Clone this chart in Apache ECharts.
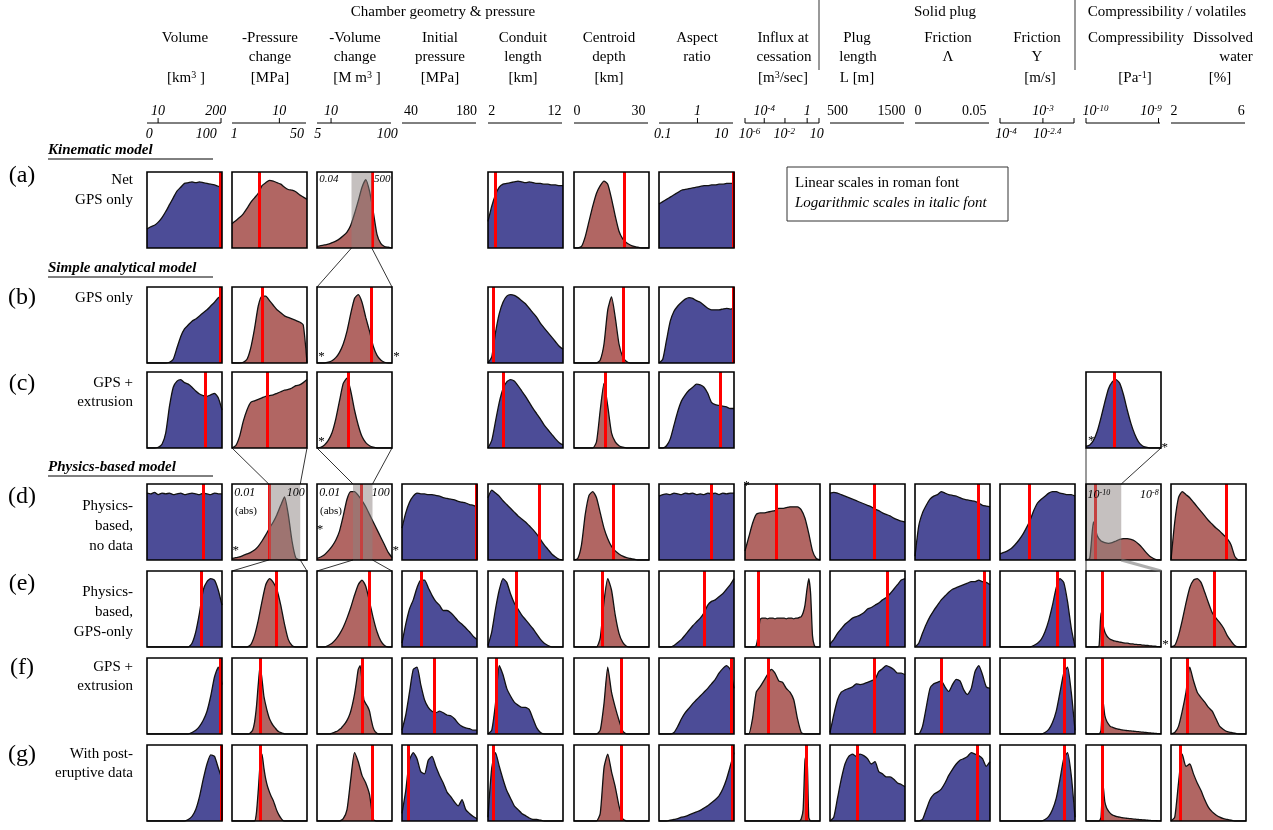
<!DOCTYPE html>
<html><head><meta charset="utf-8">
<script src="https://cdn.jsdelivr.net/npm/echarts@6/dist/echarts.min.js"></script>
<style>html,body{margin:0;padding:0;background:#fff}#c{width:1273px;height:830px}</style>
</head><body><div id="c"></div>
<script>
// ---------- DATA (relative histogram heights, sampled evenly across each parameter range) ----------
const histA = [
  [0.25,0.28,0.30,0.34,0.40,0.48,0.57,0.66,0.75,0.80,0.85,0.86,0.87,0.86,0.87,0.86,0.85,0.84,0.83,0.81,0.80],
  [0.32,0.36,0.40,0.45,0.52,0.60,0.66,0.72,0.82,0.86,0.89,0.88,0.86,0.84,0.80,0.77,0.76,0.74,0.70,0.67,0.64],
  [0.02,0.03,0.04,0.05,0.07,0.09,0.12,0.16,0.21,0.30,0.45,0.62,0.80,0.90,0.75,0.48,0.18,0.06,0.02,0.01,0],
  null,
  [0.35,0.55,0.70,0.80,0.84,0.85,0.86,0.87,0.88,0.87,0.86,0.87,0.86,0.85,0.85,0.84,0.84,0.83,0.83,0.82,0.82],
  [0,0,0.02,0.15,0.35,0.55,0.72,0.82,0.88,0.84,0.65,0.42,0.22,0.12,0.07,0.04,0.02,0.01,0,0,0],
  [0.58,0.61,0.64,0.67,0.70,0.73,0.76,0.77,0.78,0.79,0.80,0.81,0.82,0.82,0.83,0.83,0.84,0.84,0.85,0.85,0.85]
];
const histB = [
  [0,0,0,0,0,0,0.01,0.05,0.2,0.35,0.45,0.5,0.55,0.58,0.62,0.66,0.7,0.75,0.8,0.86,0.88],
  [0,0,0,0.01,0.05,0.2,0.45,0.75,0.88,0.88,0.82,0.76,0.70,0.66,0.62,0.60,0.58,0.56,0.54,0.5,0],
  [0,0,0,0.01,0.03,0.07,0.14,0.25,0.42,0.65,0.85,0.9,0.8,0.6,0.42,0.22,0.1,0.04,0.01,0,0],
  null,
  [0,0.08,0.4,0.65,0.8,0.88,0.9,0.89,0.86,0.82,0.78,0.72,0.66,0.6,0.52,0.46,0.4,0.34,0.28,0.22,0.18],
  [0,0,0,0,0,0,0,0.04,0.25,0.7,0.87,0.6,0.25,0.08,0.02,0,0,0,0,0,0],
  [0,0.05,0.3,0.55,0.68,0.75,0.8,0.84,0.86,0.85,0.82,0.8,0.76,0.72,0.7,0.7,0.7,0.71,0.72,0.71,0.72]
];
const histC = [
  [0,0,0,0.01,0.05,0.2,0.55,0.8,0.88,0.9,0.86,0.84,0.8,0.75,0.71,0.69,0.68,0.7,0.72,0.66,0.5],
  [0,0.03,0.15,0.35,0.5,0.6,0.62,0.64,0.66,0.68,0.69,0.7,0.72,0.74,0.76,0.77,0.79,0.82,0.83,0.86,0.9],
  [0,0.01,0.04,0.1,0.2,0.38,0.62,0.85,0.92,0.75,0.5,0.3,0.15,0.07,0.03,0.01,0,0,0,0,0],
  null,
  [0,0.1,0.35,0.6,0.78,0.87,0.9,0.88,0.82,0.75,0.68,0.6,0.52,0.45,0.38,0.3,0.24,0.18,0.12,0.07,0.04],
  [0,0,0,0,0,0,0.08,0.5,0.85,0.55,0.2,0.08,0.03,0.01,0,0,0,0,0,0,0],
  [0,0,0.03,0.12,0.3,0.48,0.62,0.7,0.76,0.8,0.84,0.83,0.8,0.72,0.6,0.57,0.56,0.55,0.54,0.52,0.52],
  null, null, null, null,
  [0.02,0.04,0.1,0.22,0.4,0.6,0.78,0.87,0.9,0.85,0.7,0.5,0.32,0.18,0.08,0.03,0.01,0,0,0,0]
];
const histD = [
  [0.88,0.87,0.89,0.86,0.88,0.87,0.88,0.86,0.87,0.88,0.86,0.87,0.88,0.87,0.86,0.88,0.87,0.86,0.88,0.87,0.87],
  [0.02,0.03,0.04,0.06,0.08,0.1,0.13,0.18,0.25,0.33,0.42,0.5,0.6,0.72,0.83,0.6,0.25,0.03,0,0,0],
  [0.02,0.04,0.07,0.12,0.18,0.26,0.38,0.58,0.8,0.9,0.9,0.85,0.78,0.7,0.6,0.5,0.4,0.3,0.2,0.1,0.03],
  [0.42,0.62,0.76,0.84,0.88,0.87,0.87,0.86,0.86,0.85,0.84,0.82,0.81,0.8,0.79,0.77,0.76,0.75,0.73,0.72,0.7],
  [0.82,0.92,0.88,0.84,0.78,0.73,0.68,0.63,0.58,0.54,0.5,0.45,0.4,0.34,0.27,0.2,0.14,0.08,0.04,0.01,0],
  [0,0.02,0.2,0.6,0.85,0.9,0.82,0.62,0.42,0.28,0.18,0.12,0.08,0.05,0.03,0.02,0.01,0,0,0,0],
  [0.84,0.86,0.87,0.86,0.88,0.87,0.86,0.88,0.87,0.88,0.86,0.87,0.86,0.88,0.87,0.88,0.86,0.88,0.87,0.88,0.88],
  [0.12,0.3,0.48,0.6,0.62,0.62,0.63,0.64,0.65,0.68,0.68,0.69,0.7,0.7,0.7,0.66,0.55,0.35,0.12,0.02,0],
  [0.88,0.89,0.88,0.86,0.84,0.82,0.8,0.78,0.76,0.74,0.72,0.7,0.67,0.65,0.62,0.6,0.58,0.55,0.53,0.51,0.5],
  [0.05,0.45,0.62,0.72,0.8,0.84,0.86,0.9,0.88,0.86,0.85,0.84,0.82,0.8,0.79,0.78,0.77,0.75,0.72,0.71,0.7],
  [0.08,0.1,0.12,0.15,0.2,0.26,0.33,0.42,0.52,0.65,0.75,0.8,0.84,0.88,0.9,0.9,0.88,0.87,0.86,0.86,0.84],
  [0,0.02,0.5,0.32,0.25,0.23,0.22,0.23,0.25,0.27,0.28,0.28,0.27,0.25,0.21,0.16,0.1,0.05,0.02,0,0],
  [0,0.5,0.82,0.9,0.86,0.82,0.76,0.7,0.64,0.58,0.52,0.47,0.42,0.38,0.33,0.28,0.2,0.05,0,0,0]
];
const histE = [
  [0,0,0,0,0,0,0,0,0,0,0,0,0.05,0.2,0.45,0.75,0.86,0.9,0.88,0.75,0.55],
  [0,0,0,0,0,0.03,0.15,0.35,0.6,0.82,0.9,0.85,0.75,0.55,0.3,0.1,0.02,0,0,0,0],
  [0,0,0,0.02,0.05,0.1,0.17,0.26,0.38,0.52,0.68,0.82,0.88,0.8,0.6,0.38,0.2,0.08,0.02,0,0],
  [0.05,0.3,0.5,0.62,0.78,0.88,0.88,0.78,0.68,0.6,0.55,0.48,0.48,0.45,0.4,0.34,0.3,0.25,0.2,0.14,0.1],
  [0.02,0.2,0.5,0.75,0.9,0.85,0.7,0.58,0.5,0.42,0.36,0.3,0.24,0.17,0.1,0.05,0.02,0,0,0,0],
  [0,0,0,0,0,0,0,0.12,0.6,0.9,0.75,0.42,0.18,0.06,0.01,0,0,0,0,0,0],
  [0,0,0,0,0.02,0.06,0.1,0.16,0.22,0.28,0.33,0.38,0.45,0.55,0.6,0.62,0.66,0.7,0.76,0.82,0.9],
  [0,0,0,0,0,0,0.02,0.15,0.36,0.38,0.38,0.38,0.37,0.38,0.38,0.38,0.37,0.38,0.38,0.38,0.38,0.38,0.37,0.38,0.38,0.38,0.37,0.38,0.38,0.39,0.4,0.45,0.55,0.75,0.9,0.7,0.15,0.02,0,0,0],
  [0.04,0.1,0.18,0.24,0.3,0.34,0.38,0.4,0.42,0.45,0.5,0.52,0.55,0.58,0.62,0.65,0.7,0.76,0.82,0.88,0.9],
  [0,0.05,0.18,0.3,0.4,0.48,0.55,0.62,0.67,0.72,0.76,0.78,0.8,0.82,0.84,0.86,0.86,0.88,0.86,0.85,0.82],
  [0,0,0,0,0,0,0,0,0,0.02,0.05,0.1,0.2,0.35,0.55,0.78,0.9,0.85,0.6,0.25,0],
  [0,0,0,0,0,0,0,0.02,0.45,0.3,0.2,0.15,0.12,0.1,0.09,0.08,0.075,0.07,0.065,0.06,0.055,0.05,0.05,0.045,0.04,0.04,0.035,0.035,0.03,0.03,0.025,0.025,0.02,0.02,0.015,0.015,0.01,0.01,0.005,0.005,0],
  [0,0.02,0.15,0.35,0.58,0.78,0.88,0.9,0.85,0.72,0.58,0.45,0.38,0.32,0.25,0.15,0.08,0.02,0,0,0]
];
const histF = [
  [0,0,0,0,0,0,0,0,0,0,0,0,0.02,0.05,0.1,0.18,0.3,0.5,0.75,0.88,0.65],
  [0,0,0,0,0,0,0,0,0,0,0.02,0.05,0.15,0.35,0.65,0.9,0.72,0.5,0.38,0.28,0.2,0.15,0.11,0.08,0.05,0.03,0.02,0.01,0,0,0,0,0,0,0,0,0,0,0,0,0],
  [0,0,0,0,0,0,0,0,0.01,0.02,0.03,0.04,0.06,0.08,0.11,0.14,0.18,0.23,0.3,0.4,0.52,0.68,0.85,0.9,0.7,0.45,0.4,0.36,0.3,0.18,0.08,0.03,0.01,0,0,0,0,0,0,0,0],
  [0.05,0.25,0.55,0.85,0.88,0.65,0.45,0.35,0.3,0.28,0.3,0.28,0.25,0.24,0.2,0.14,0.1,0.08,0.07,0.05,0.05],
  [0,0.05,0.4,0.9,0.78,0.6,0.5,0.42,0.38,0.35,0.35,0.32,0.2,0.08,0.02,0,0,0,0,0,0],
  [0,0,0,0,0,0,0,0.05,0.4,0.88,0.55,0.35,0.18,0.04,0,0,0,0,0,0,0],
  [0,0,0,0,0.02,0.1,0.2,0.28,0.34,0.4,0.45,0.5,0.55,0.6,0.66,0.72,0.8,0.86,0.9,0.85,0.6],
  [0,0,0.2,0.55,0.62,0.7,0.78,0.85,0.8,0.7,0.68,0.6,0.55,0.45,0.2,0.02,0,0,0,0,0],
  [0.02,0.25,0.45,0.55,0.58,0.6,0.62,0.66,0.65,0.66,0.68,0.7,0.72,0.82,0.86,0.9,0.88,0.85,0.8,0.8,0.78],
  [0,0,0.1,0.35,0.6,0.66,0.68,0.7,0.62,0.56,0.65,0.72,0.7,0.58,0.52,0.6,0.82,0.9,0.78,0.62,0.6],
  [0,0,0,0,0,0,0,0,0,0,0,0,0.02,0.06,0.15,0.3,0.55,0.8,0.88,0.55,0.05],
  [0,0,0,0,0,0,0,0,0.05,0.45,0.25,0.17,0.13,0.1,0.09,0.08,0.07,0.065,0.06,0.055,0.05,0.047,0.045,0.042,0.04,0.037,0.035,0.032,0.03,0.027,0.025,0.022,0.02,0.017,0.015,0.012,0.01,0.008,0.006,0.004,0.002],
  [0,0.02,0.1,0.3,0.55,0.88,0.7,0.55,0.48,0.42,0.35,0.3,0.2,0.1,0.06,0.03,0.02,0.01,0,0,0]
];
const histG = [
  [0,0,0,0,0,0,0,0,0,0,0,0.02,0.06,0.15,0.32,0.55,0.75,0.87,0.85,0.7,0.55],
  [0,0,0,0,0,0,0,0,0,0,0,0,0,0.1,0.4,0.75,0.88,0.7,0.55,0.45,0.38,0.32,0.27,0.2,0.13,0.08,0.04,0.01,0,0,0,0,0,0,0,0,0,0,0,0,0],
  [0,0,0,0,0,0,0,0.03,0.15,0.55,0.9,0.78,0.6,0.5,0.35,0.02,0,0,0,0,0],
  [0.1,0.4,0.8,0.9,0.82,0.65,0.62,0.8,0.85,0.72,0.6,0.5,0.38,0.32,0.25,0.2,0.28,0.15,0.1,0.06,0.03],
  [0.05,0.7,0.9,0.72,0.55,0.4,0.3,0.2,0.15,0.1,0.07,0.04,0.02,0.02,0.01,0,0,0,0,0,0],
  [0,0,0,0,0,0,0,0.1,0.7,0.88,0.65,0.45,0.2,0.03,0,0,0,0,0,0,0],
  [0,0,0,0.01,0.02,0.03,0.05,0.06,0.08,0.1,0.12,0.14,0.17,0.2,0.24,0.28,0.33,0.42,0.55,0.72,0.9],
  [0,0,0,0,0,0,0,0,0,0,0,0,0,0,0,0,0,0,0,0,0,0,0,0,0,0,0,0,0,0,0.03,0.15,0.8,0.9,0.05,0,0,0,0,0,0],
  [0,0.05,0.3,0.55,0.75,0.85,0.88,0.85,0.88,0.86,0.82,0.75,0.78,0.65,0.62,0.58,0.58,0.55,0.5,0.48,0.45],
  [0,0,0.02,0.15,0.28,0.35,0.38,0.42,0.5,0.6,0.68,0.75,0.8,0.82,0.85,0.9,0.88,0.86,0.82,0.72,0.78],
  [0,0,0,0,0,0,0,0,0,0,0,0,0.02,0.06,0.15,0.3,0.55,0.82,0.9,0.6,0.05],
  [0,0,0,0,0,0,0,0,0.05,0.5,0.26,0.17,0.13,0.1,0.08,0.07,0.06,0.055,0.05,0.045,0.04,0.037,0.035,0.032,0.03,0.027,0.025,0.022,0.02,0.018,0.016,0.014,0.012,0.01,0.008,0.006,0.005,0.004,0.003,0.002,0],
  [0,0.05,0.5,0.88,0.72,0.75,0.62,0.5,0.4,0.28,0.18,0.12,0.08,0.05,0.03,0.02,0.01,0,0,0,0]
];
// true values (red lines), as fraction of each parameter range
const redA = [0.97,0.36,0.73,null,0.1,0.67,0.99];
const redB = [0.97,0.4,0.72,null,0.07,0.65,0.99];
const redC = [0.77,0.47,0.42,null,0.2,0.42,0.82,null,null,null,null,0.37];
const redD = [0.75,0.49,0.59,0.99,0.68,0.52,0.7,0.41,0.59,0.84,0.39,0.12,0.74];
const redE = [0.72,0.59,0.7,0.25,0.38,0.37,0.6,0.18,0.76,0.92,0.76,0.21,0.58];
const redF = [0.98,0.38,0.6,0.43,0.11,0.63,0.96,0.31,0.59,0.35,0.86,0.22,0.22];
const redG = [0.99,0.38,0.73,0.08,0.07,0.63,0.98,0.82,0.36,0.83,0.86,0.22,0.12];
// B = blue (linear-ish parameters), R = brown
const kindA = 'BRR-BRB------', kindB = 'BRR-BRB------', kindC = 'BRR-BRB----B-';
const kindD = 'BRRBBRBRBBBRR', kindE = kindD, kindF = kindD, kindG = kindD;

const groupTitles = ['Chamber geometry & pressure','Solid plug','Compressibility / volatiles'];
const colTitle1 = ['Volume','-Pressure','-Volume','Initial','Conduit','Centroid','Aspect','Influx at','Plug','Friction','Friction','Compressibility','Dissolved'];
const colTitle2 = ['','change','change','pressure','length','depth','ratio','cessation','length','\u039B','Y','','water'];
const colUnits = ['[km^{3} ]','[MPa]','[M m^{3} ]','[MPa]','[km]','[km]','','[m^{3}/sec]','L [m]','','[m/s]','[Pa^{-1}]','[%]'];
const scaleTopLabels = [['10','200'],['10'],['10'],['40','180'],['2','12'],['0','30'],['1'],['10^{-4}','1'],['500','1500'],['0','0.05'],['10^{-3}'],['10^{-10}','10^{-9}'],['2','6']];
const scaleBotLabels = [['0','100'],['1','50'],['5','100'],[],[],[],['0.1','10'],['10^{-6}','10^{-2}','10'],[],[],['10^{-4}','10^{-2.4}'],[],[]];
const scaleIsLog = [1,1,1,0,0,0,1,1,0,0,1,1,0];
const rowLetters = ['(a)','(b)','(c)','(d)','(e)','(f)','(g)'];
const rowNames = [['Net','GPS only'],['GPS only'],['GPS +','extrusion'],['Physics-','based,','no data'],['Physics-','based,','GPS-only'],['GPS +','extrusion'],['With post-','eruptive data']];
const sectionTitles = ['Kinematic model','Simple analytical model','Physics-based model'];
const legendLines = ['Linear scales in roman font','Logarithmic scales in italic font'];

// ---------- LAYOUT / STYLE ----------
const FONT = '"Liberation Serif","Times New Roman",serif';
const BLUE = '#4c4c97', BROWN = '#b16663';
const COLX = [147,232,317,402,488,574,659,745,830,915,1000,1086,1171];
const ROWY = [172,287,372,484,571,658,745];
const BW = 75, BH = 76;
const ROWS_DATA = [histA,histB,histC,histD,histE,histF,histG];
const REDS = [redA,redB,redC,redD,redE,redF,redG];
const KINDS = [kindA,kindB,kindC,kindD,kindE,kindF,kindG];
const BANDS = [[0,2,0.46,0.73],[3,1,0.49,0.91],[3,2,0.48,0.74],[3,11,0,0.47]];

function rt(str,size,st,wt){
  const re=/\^\{([^}]*)\}/g; let out='',last=0,m;
  while((m=re.exec(str))){ if(m.index>last) out+='{n|'+str.slice(last,m.index)+'}'; out+='{s|'+m[1]+'}'; last=re.lastIndex; }
  if(last<str.length) out+='{n|'+str.slice(last)+'}';
  return {text:out, rich:{
    n:{fontSize:size,fontFamily:FONT,fontStyle:st,fontWeight:wt,fill:'#000'},
    s:{fontSize:Math.round(size*0.66),fontFamily:FONT,fontStyle:st,fontWeight:wt,fill:'#000',verticalAlign:'top'}
  }};
}
function txt(x,y,str,o){
  o=o||{}; const size=o.size||15, st=o.italic?'italic':'normal', wt=o.bold?'bold':'normal', al=o.align||'center';
  const r=rt(str,size,st,wt);
  return {type:'text',x:x,y:y,z:100,silent:true,style:{text:r.text,rich:r.rich,font:st+' '+wt+' '+size+'px '+FONT,fill:'#000',
    align:al,textAlign:al,verticalAlign:'middle',textVerticalAlign:'middle'}};
}
function ln(x1,y1,x2,y2,o){
  o=o||{};
  return {type:'line',z:o.z||100,silent:true,shape:{x1:x1,y1:y1,x2:x2,y2:y2},style:{stroke:o.color||'#000',lineWidth:o.w||1}};
}

const chart = echarts.init(document.getElementById('c'),null,{renderer:'canvas'});
const grids=[],xAxes=[],yAxes=[],series=[]; const gIdx=ROWS_DATA.map(()=>[]);
ROWS_DATA.forEach((row,r)=>{
  row.forEach((h,c)=>{
    if(!h) return;
    const gi=grids.length; gIdx[r][c]=gi;
    grids.push({left:COLX[c],top:ROWY[r],width:BW,height:BH,show:true,backgroundColor:'transparent',borderColor:'#000',borderWidth:1.6,z:10});
    xAxes.push({gridIndex:gi,type:'value',min:0,max:1,show:false});
    yAxes.push({gridIndex:gi,type:'value',min:0,max:1,show:false});
    const red=REDS[r][c];
    const s={type:'line',xAxisIndex:gi,yAxisIndex:gi,data:h.map((v,i)=>[i/(h.length-1),v]),symbol:'none',smooth:0.2,
      lineStyle:{color:'#111',width:1.3},areaStyle:{color:KINDS[r][c]==='B'?BLUE:BROWN,opacity:1},silent:true,z:2,animation:false};
    if(red!=null) s.markLine={silent:true,symbol:['none','none'],label:{show:false},lineStyle:{color:'#ff0000',width:3,type:'solid'},data:[{xAxis:red}],z:6,animation:false};
    series.push(s);
  });
});
BANDS.forEach(([r,c,a,b])=>{
  const gi=gIdx[r][c];
  series.push({type:'line',xAxisIndex:gi,yAxisIndex:gi,data:[],z:7,silent:true,animation:false,
    markArea:{silent:true,z:7,itemStyle:{color:'rgba(140,130,128,0.5)'},data:[[{xAxis:a},{xAxis:b}]]}});
});

const G=[];
// header
[443,945,1167].forEach((x,i)=>G.push(txt(x,12,groupTitles[i])));
G.push(ln(819,0,819,70,{color:'#999',w:2}), ln(1075,0,1075,70,{color:'#999',w:2}));
const T1X=[185,270,355,440,523,609,697,783,857,948,1037,1136,1223];
const T2X=[185,270,355,440,523,609,697,784,858,948,1037,1136,1236];
const UX=[186,270,357,440,523,609,697,783,857,948,1040,1135,1220];
colTitle1.forEach((t,i)=>{
  G.push(txt(T1X[i],38,t));
  if(colTitle2[i]) G.push(txt(T2X[i],57,colTitle2[i]));
  if(colUnits[i]) G.push(txt(UX[i],78,colUnits[i]));
});
const topPos=[[0.15,0.93],[0.64],[0.19],[0.12,0.87],[0.05,0.9],[0.04,0.87],[0.52],[0.26,0.84],[0.1,0.83],[0.04,0.8],[0.58],[0.13,0.88],[0.04,0.95]];
const botPos=[[0.03,0.8],[0.03,0.88],[0.01,0.95],[],[],[],[0.05,0.84],[0.06,0.53,0.97],[],[],[0.08,0.64],[],[]];
const ticks=[[0.15,1],[0.64],[0.19],[],[],[],[0.52],[0,0.26,0.54,0.84,1],[],[],[0,0.58,1],[0,0.98],[]];
COLX.forEach((x0,c)=>{
  const w=BW-1, it=!!scaleIsLog[c];
  G.push(ln(x0,123,x0+w,123));
  ticks[c].forEach(f=>G.push(ln(x0+f*w,118,x0+f*w,123)));
  scaleTopLabels[c].forEach((t,k)=>G.push(txt(x0+topPos[c][k]*w,111,t,{italic:it,size:14})));
  scaleBotLabels[c].forEach((t,k)=>G.push(txt(x0+botPos[c][k]*w,134,t,{italic:it,size:14})));
});
// section titles
[[150,159],[268,277],[467,476]].forEach(([y,u],i)=>{
  G.push(txt(48,y,sectionTitles[i],{bold:true,italic:true,align:'left',size:15}));
  G.push(ln(48,u,213,u,{w:1}));
});
// row labels
const letterY=[176,298,384,497,584,668,755];
const nameY=[[180,200],[298],[383,402],[506,526,546],[592,612,632],[667,686],[754,773]];
rowLetters.forEach((t,r)=>{
  G.push(txt(22,letterY[r],t,{size:24}));
  rowNames[r].forEach((n,k)=>G.push(txt(133,nameY[r][k],n,{align:'right'})));
});
// legend box
G.push({type:'rect',z:100,silent:true,shape:{x:787,y:167,width:221,height:54},style:{fill:'#fff',stroke:'#333',lineWidth:1}});
G.push(txt(795,183,legendLines[0],{align:'left'}));
G.push(txt(795,203,legendLines[1],{align:'left',italic:true}));

chart.setOption({animation:false,grid:grids,xAxis:xAxes,yAxis:yAxes,series:series,graphic:G});

// annotations tied to cells
function P(r,c,x,y){ return chart.convertToPixel({gridIndex:gIdx[r][c]},[x,y]); }
const A=[];
function conn(p,q,o){ A.push(ln(p[0],p[1],q[0],q[1],o||{w:0.8})); }
// zoom connectors
conn(P(0,2,0.46,0),P(1,2,0,1)); conn(P(0,2,0.73,0),P(1,2,1,1));
conn(P(2,1,0,0),P(3,1,0.49,1)); conn(P(2,1,1,0),P(3,1,0.91,1));
conn(P(2,2,0,0),P(3,2,0.48,1)); conn(P(2,2,1,0),P(3,2,0.74,1));
conn(P(3,1,0.49,0),P(4,1,0,1)); conn(P(3,1,0.91,0),P(4,1,1,1));
conn(P(3,2,0.48,0),P(4,2,0,1)); conn(P(3,2,0.74,0),P(4,2,1,1));
conn(P(2,11,0,0),P(4,11,0,1)); conn(P(2,11,1,0),P(3,11,0.47,1));
conn(P(3,11,0.47,0),P(4,11,1,1),{w:3,color:'rgba(120,120,120,0.6)'});
// in-box scale labels
function lab(r,c,x,y,t,o){ const p=P(r,c,x,y); A.push(txt(p[0],p[1],t,o)); }
lab(0,2,0.03,0.9,'0.04',{italic:true,size:11,align:'left'}); lab(0,2,0.98,0.9,'500',{italic:true,size:11,align:'right'});
[1,2].forEach(c=>{
  lab(3,c,0.03,0.88,'0.01',{italic:true,size:12,align:'left'});
  lab(3,c,0.04,0.64,'(abs)',{size:11,align:'left'});
  lab(3,c,0.97,0.88,'100',{italic:true,size:12,align:'right'});
});
lab(3,11,0.02,0.86,'10^{-10}',{italic:true,size:12,align:'left'});
lab(3,11,0.97,0.86,'10^{-8}',{italic:true,size:12,align:'right'});
// stars
[[1,2,0.06,0.08],[1,2,1.06,0.08],[2,2,0.06,0.08],[2,11,0.07,0.1],[2,11,1.05,0.0],[3,1,0.05,0.12],[3,2,0.04,0.4],[3,2,1.05,0.12],[3,7,0.02,0.98],[4,11,1.06,0.03]]
  .forEach(([r,c,x,y])=>lab(r,c,x,y,'*',{size:13}));
chart.setOption({graphic:G.concat(A)});
</script></body></html>
